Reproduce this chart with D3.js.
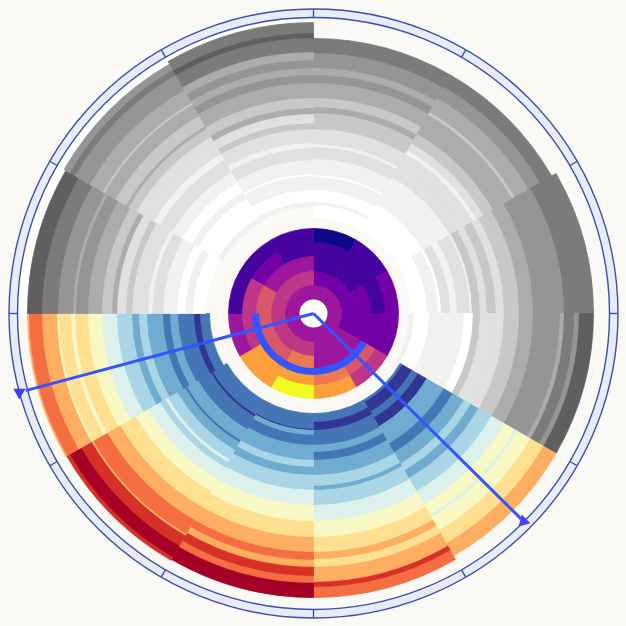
<!DOCTYPE html>
<html lang="en">
<head>
<meta charset="utf-8">
<title>Polar bands</title>
<script src="https://d3js.org/d3.v7.min.js"></script>
<style>
  html, body { margin: 0; background: #faf9f5; }
  svg { display: block; filter: blur(0.35px); }
</style>
</head>
<body>
<script>
// colour steps, darkest / first level at index 0
var greys = ["#5f5f5f", "#7b7b7b", "#959595", "#acacac", "#c8c8c8", "#e0e0e0", "#f1f1f1", "#ffffff"];
var rdylbu = ["#a50026", "#d73027", "#f46d43", "#fdae61", "#fee090", "#f8f8c4", "#dcf1ec", "#a9d5e6", "#70abd0", "#4575b4", "#313695"];
var plasma = ["#0d0887", "#46039f", "#7201a8", "#9c179e", "#bd3786", "#d8576b", "#ed7953", "#fb9f3a", "#fdca26", "#f0f921"];

// outer ring, one entry per 30 degree sector clockwise from the top
var sectorMaps = ["g", "g", "g", "g", "r", "r", "r", "r", "r", "g", "g", "g"];
var sectorStart = [96, 96, 98, 96, 100, 100, 100, 100, 104, 108, 105, 107];
var bandEnds = [
  [108, 111, 123, 136, 138, 154, 166, 169, 184, 200, 206, 215, 230, 238, 245, 260, 275],
  [126, 150, 157, 171, 184, 188, 196, 207, 229, 232, 248, 261, 275],
  [113, 124, 127, 136, 143, 156, 158, 166, 173, 182, 190, 205, 219, 234, 250, 265, 280],
  [100, 115, 128, 150, 159, 166, 181, 190, 205, 219, 246, 250, 260, 265, 280],
  [102, 113, 115, 120, 130, 145, 150, 160, 173, 175, 181, 190, 205, 220, 232, 235, 250, 265, 280],
  [108, 116, 131, 138, 146, 161, 172, 176, 191, 207, 223, 238, 245, 253, 268, 273, 284],
  [115, 116, 121, 131, 146, 153, 161, 176, 191, 207, 223, 238, 246, 253, 262, 269, 284],
  [116, 118, 133, 146, 148, 157, 168, 171, 177, 191, 205, 223, 238, 254, 256, 268, 281, 285],
  [113, 119, 135, 143, 150, 166, 174, 181, 196, 211, 225, 238, 242, 254, 256, 271, 284, 286],
  [120, 128, 136, 150, 161, 165, 181, 187, 196, 201, 211, 225, 237, 240, 255, 271, 286],
  [110, 133, 140, 151, 163, 177, 184, 196, 204, 213, 216, 228, 241, 243, 258, 275, 281, 288],
  [111, 123, 137, 139, 153, 165, 170, 184, 190, 199, 205, 215, 230, 238, 245, 253, 261, 275, 280, 291]
];
var bandLevels = [
  [7, 6, 7, 6, 7, 6, 5, 6, 5, 4, 3, 4, 3, 2, 3, 2, 1],
  [7, 6, 6, 5, 5, 6, 5, 4, 3, 4, 3, 2, 1],
  [7, 6, 7, 5, 6, 5, 6, 4, 5, 4, 5, 4, 3, 2, 2, 1, 1],
  [6, 7, 6, 6, 7, 4, 5, 5, 4, 3, 2, 3, 1, 2, 0],
  [9, 10, 9, 9, 10, 8, 8, 9, 8, 7, 7, 8, 7, 6, 5, 6, 5, 4, 3],
  [9, 10, 9, 8, 9, 8, 7, 8, 7, 6, 5, 4, 3, 4, 3, 1, 2],
  [9, 10, 8, 9, 8, 7, 8, 7, 6, 5, 4, 3, 2, 3, 1, 2, 0],
  [9, 10, 9, 8, 9, 8, 7, 6, 7, 6, 5, 4, 3, 2, 3, 1, 0, 1],
  [9, 10, 9, 8, 9, 8, 7, 8, 7, 6, 5, 4, 5, 4, 5, 3, 2, 3],
  [7, 6, 7, 6, 5, 6, 5, 4, 5, 3, 4, 3, 2, 3, 2, 1, 0],
  [6, 7, 6, 7, 6, 5, 6, 5, 5, 4, 3, 4, 3, 4, 3, 2, 1, 2],
  [6, 7, 6, 7, 6, 5, 6, 5, 4, 5, 3, 4, 3, 2, 3, 2, 3, 1, 0, 1]
];

// inner disc: five rings per sector, inner to outer
var discEdges = [14, 28, 42, 57, 71, 85];
var discLevels = [
  [3, 2, 1, 1, 0],
  [3, 2, 1, 1, 1],
  [3, 2, 2, 1, 2],
  [3, 2, 2, 2, 2],
  [3, 3, 3, 5, 4],
  [3, 3, 3, 6, 7],
  [3, 4, 6, 7, 9],
  [3, 4, 5, 7, 7],
  [3, 4, 5, 4, 3],
  [3, 4, 5, 4, 1],
  [3, 4, 3, 2, 1],
  [3, 4, 3, 1, 1]
];

var gaugeTicks = d3.range(0, 360, 30);
var whiteRim = [270, 360];
var arcSpan = [120, 270];
var pointerAngles = [134.7, 255];
var pointerLengths = [292, 298];
var pointerHeads = [295.6, 304.5];
var pointerSpin = [-15, 180];

var size = 626;
var cx = 313.5, cy = 313.5;
var svg = d3.select("body").append("svg").attr("width", size).attr("height", size);
var g = svg.append("g").attr("transform", "translate(" + cx + "," + cy + ")");

var rScale = d3.scaleLinear().domain([0, 305]).range([0, 305]);
var sectorAngle = d3.scaleLinear().domain([0, 12]).range([0, 2 * Math.PI]);
var degAngle = d3.scaleLinear().domain([0, 360]).range([0, 2 * Math.PI]);
var arc = d3.arc();

g.append("path")
  .attr("fill", "#ffffff")
  .attr("d", arc({
    innerRadius: rScale(270),
    outerRadius: rScale(296),
    startAngle: degAngle(whiteRim[0]),
    endAngle: degAngle(whiteRim[1])
  }));

// each band overlaps the next one in by a hair, painted outer to inner, so no seams
bandEnds.forEach(function(ends, s) {
  var colours = sectorMaps[s] == "g" ? greys : rdylbu;
  for (var i = ends.length - 1; i >= 0; i--) {
    var from = i == 0 ? sectorStart[s] : ends[i - 1] - 0.5;
    g.append("path")
      .attr("fill", colours[bandLevels[s][i]])
      .attr("stroke", colours[bandLevels[s][i]])
      .attr("stroke-width", 0.8)
      .attr("d", arc({
        innerRadius: rScale(from),
        outerRadius: rScale(ends[i]),
        startAngle: sectorAngle(s),
        endAngle: sectorAngle(s + 1)
      }));
  }
});

discLevels.forEach(function(levels, s) {
  for (var i = levels.length - 1; i >= 0; i--) {
    g.append("path")
      .attr("fill", plasma[levels[i]])
      .attr("stroke", plasma[levels[i]])
      .attr("stroke-width", 0.8)
      .attr("d", arc({
        innerRadius: rScale(discEdges[i] - 0.5),
        outerRadius: rScale(discEdges[i + 1]),
        startAngle: sectorAngle(s),
        endAngle: sectorAngle(s + 1)
      }));
  }
});

g.append("circle").attr("r", rScale(discEdges[0])).attr("fill", "#ffffff");

// gauge ring with a tick every 30 degrees
g.append("path")
  .attr("fill", "#e8ebf8")
  .attr("stroke", "#3a4fb0")
  .attr("stroke-width", 1.4)
  .attr("d", arc({ innerRadius: rScale(296), outerRadius: rScale(304.5), startAngle: 0, endAngle: 2 * Math.PI }));

g.selectAll(".tick").data(gaugeTicks).enter().append("line")
  .attr("class", "tick")
  .attr("stroke", "#3a4fb0")
  .attr("stroke-width", 1.4)
  .attr("x1", function(d) { return rScale(296) * Math.sin(degAngle(d)); })
  .attr("y1", function(d) { return -rScale(296) * Math.cos(degAngle(d)); })
  .attr("x2", function(d) { return rScale(304.5) * Math.sin(degAngle(d)); })
  .attr("y2", function(d) { return -rScale(304.5) * Math.cos(degAngle(d)); });

// pointers and the span arc
pointerAngles.forEach(function(a, i) {
  var t = degAngle(a);
  g.append("line")
    .attr("stroke", "#3355ff")
    .attr("stroke-width", 3)
    .attr("x1", 0).attr("y1", 0)
    .attr("x2", rScale(pointerLengths[i]) * Math.sin(t))
    .attr("y2", -rScale(pointerLengths[i]) * Math.cos(t));
  g.append("path")
    .attr("fill", "#4a3ff0")
    .attr("d", d3.symbol().type(d3.symbolTriangle).size(65)())
    .attr("transform", "translate(" + rScale(pointerHeads[i]) * Math.sin(t) + "," + (-rScale(pointerHeads[i]) * Math.cos(t)) + ") rotate(" + pointerSpin[i] + ")");
});

g.append("path")
  .attr("fill", "#3355ff")
  .attr("d", arc({
    innerRadius: rScale(54.5),
    outerRadius: rScale(61.5),
    startAngle: degAngle(arcSpan[0]),
    endAngle: degAngle(arcSpan[1])
  }));
</script>
</body>
</html>
